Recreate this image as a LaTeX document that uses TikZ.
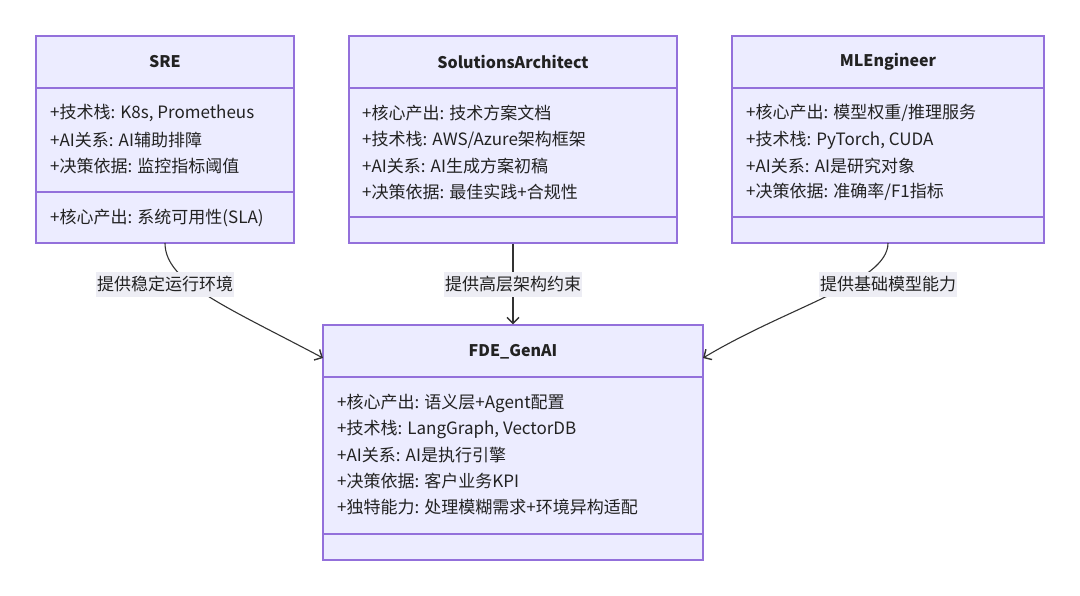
\documentclass[tikz,border=0pt]{standalone}
\usepackage{fontspec}
\setmainfont{Noto Sans CJK SC}
\usetikzlibrary{arrows.meta,calc}
\definecolor{clsfill}{HTML}{ECECFF}
\definecolor{clsline}{HTML}{9370DB}
\definecolor{edgecol}{HTML}{333333}
\definecolor{lblbg}{HTML}{EDEDF4}
\definecolor{txt}{HTML}{222222}
\tikzset{
  cls/.style={draw=clsline, fill=clsfill, line width=1.2pt, inner sep=0pt},
  divider/.style={draw=clsline, line width=1.2pt},
  title/.style={font=\fontsize{16}{19}\selectfont\bfseries, text=txt, inner sep=0pt},
  member/.style={font=\fontsize{17}{20}\selectfont, text=txt, anchor=west, inner sep=0pt},
  elabel/.style={fill=lblbg, font=\fontsize{17}{20}\selectfont, text=txt, inner xsep=1pt, inner ysep=0pt, minimum height=25pt},
  edge/.style={draw=edgecol, line width=1.1pt, -{Straight Barb[length=6pt,width=12pt,line width=1.4pt]}}
}
\begin{document}
\begin{tikzpicture}[x=1pt,y=-1pt]
\path[use as bounding box] (0,0) rectangle (1080,596);
\fill[white] (0,0) rectangle (1080,596);
% SRE
\node[cls, minimum width=258pt, minimum height=207pt] (sre) at (165,139.5) {};
\draw[divider] (36,88) -- (294,88);
\draw[divider] (36,192) -- (294,192);
\node[title] (sreT) at (165,62) {SRE};
\node[member] (sre1) at (50,113) {+技术栈: K8s, Prometheus};
\node[member] (sre2) at (50,140) {+AI关系: AI辅助排障};
\node[member] (sre3) at (50,166) {+决策依据: 监控指标阈值};
\node[member] (sre4) at (50,218) {+核心产出: 系统可用性(SLA)};
% SolutionsArchitect
\node[cls, minimum width=328pt, minimum height=207pt] (sa) at (513,139.5) {};
\draw[divider] (349,88) -- (677,88);
\draw[divider] (349,217) -- (677,217);
\node[title] (saT) at (513,62) {SolutionsArchitect};
\node[member] (sa1) at (362,113) {+核心产出: 技术方案文档};
\node[member] (sa2) at (362,140) {+技术栈: AWS/Azure架构框架};
\node[member] (sa3) at (362,166) {+AI关系: AI生成方案初稿};
\node[member] (sa4) at (362,192) {+决策依据: 最佳实践+合规性};
% MLEngineer
\node[cls, minimum width=312pt, minimum height=207pt] (ml) at (888,139.5) {};
\draw[divider] (732,88) -- (1044,88);
\draw[divider] (732,217) -- (1044,217);
\node[title] (mlT) at (888,62) {MLEngineer};
\node[member] (ml1) at (746,113) {+核心产出: 模型权重/推理服务};
\node[member] (ml2) at (746,140) {+技术栈: PyTorch, CUDA};
\node[member] (ml3) at (746,166) {+AI关系: AI是研究对象};
\node[member] (ml4) at (746,192) {+决策依据: 准确率/F1指标};
% FDE_GenAI
\node[cls, minimum width=380pt, minimum height=235pt] (fde) at (513,442.5) {};
\draw[divider] (323,377) -- (703,377);
\draw[divider] (323,534) -- (703,534);
\node[title] (fdeT) at (513,352) {FDE\_GenAI};
\node[member] (fde1) at (337,403) {+核心产出: 语义层+Agent配置};
\node[member] (fde2) at (337,429) {+技术栈: LangGraph, VectorDB};
\node[member] (fde3) at (337,455) {+AI关系: AI是执行引擎};
\node[member] (fde4) at (337,481) {+决策依据: 客户业务KPI};
\node[member] (fde5) at (337,507) {+独特能力: 处理模糊需求+环境异构适配};
% edges
\coordinate (sreOut) at (165,243);
\coordinate (mlOut) at (888,243);
\coordinate (fdeInL) at (323,358);
\coordinate (fdeInR) at (703,358);
\draw[edge] (sreOut) .. controls (165,282) and (225,306) .. (fdeInL);
\draw[edge] (sa.south) -- (fde.north);
\draw[edge] (mlOut) .. controls (888,282) and (790,306) .. (fdeInR);
\node[elabel] (l1) at (165,284.5) {提供稳定运行环境};
\node[elabel] (l2) at (513,284.5) {提供高层架构约束};
\node[elabel] (l3) at (888,284.5) {提供基础模型能力};
\end{tikzpicture}
\end{document}
